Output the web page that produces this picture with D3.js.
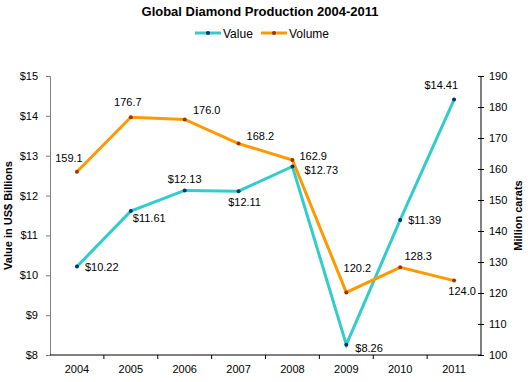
<!DOCTYPE html>
<html>
<head>
<meta charset="utf-8">
<script src="https://cdn.jsdelivr.net/npm/d3@7"></script>
<style>
  body { margin: 0; background: #fff; }
  text { font-family: "Liberation Sans", Arial, sans-serif; }
</style>
</head>
<body>
<div id="chart"></div>
<script>
var years = ["2004", "2005", "2006", "2007", "2008", "2009", "2010", "2011"];
var valueData = [10.22, 11.61, 12.13, 12.11, 12.73, 8.26, 11.39, 14.41];
var volumeData = [159.1, 176.7, 176.0, 168.2, 162.9, 120.2, 128.3, 124.0];
var leftTicks = [8, 9, 10, 11, 12, 13, 14, 15];
var rightTicks = [100, 110, 120, 130, 140, 150, 160, 170, 180, 190];

// label placement per point: [dx, dy, anchor]
var valueLabelPos = [[8, 4, "start"], [2, 11, "start"], [0, -7, "middle"], [6, 15, "middle"],
  [12, 8, "start"], [9, 7, "start"], [8, 4, "start"], [4, -11, "end"]];
var volumeLabelPos = [[-8, -10, "middle"], [-3, -11, "middle"], [22, -5, "middle"], [8, -4, "start"],
  [7, 0, "start"], [11, -20, "middle"], [18, -7, "middle"], [8, 14, "middle"]];

var width = 528, height = 382,
    margin = {top: 76, right: 47, bottom: 27, left: 50};

var svg = d3.select("#chart").append("svg")
    .attr("width", width)
    .attr("height", height);

var x = d3.scaleBand()
    .domain(years)
    .range([margin.left, width - margin.right]);

var yL = d3.scaleLinear()
    .domain([8, 15])
    .range([height - margin.bottom, margin.top]);

var yR = d3.scaleLinear()
    .domain([100, 190])
    .range([height - margin.bottom, margin.top]);

function cx(i) { return x(years[i]) + x.bandwidth() / 2; }

// title
svg.append("text")
    .attr("x", 260).attr("y", 16)
    .attr("text-anchor", "middle")
    .style("font-size", "13px").style("font-weight", "bold")
    .text("Global Diamond Production 2004-2011");

// legend
var legend = [
  {name: "Value", color: "#33CCCC", mark: "#003366", x: 195},
  {name: "Volume", color: "#FF9900", mark: "#993300", x: 261}
];
legend.forEach(function(l) {
  svg.append("line")
      .attr("x1", l.x).attr("x2", l.x + 26)
      .attr("y1", 33).attr("y2", 33)
      .attr("stroke", l.color).attr("stroke-width", 3);
  svg.append("circle")
      .attr("cx", l.x + 13).attr("cy", 33).attr("r", 2)
      .attr("fill", l.mark);
  svg.append("text")
      .attr("x", l.x + 28).attr("y", 37.5)
      .style("font-size", "12px")
      .text(l.name);
});

// left axis
var gl = svg.append("g")
    .attr("transform", "translate(" + margin.left + ",0)")
    .call(d3.axisLeft(yL).tickValues(leftTicks).tickSize(4).tickPadding(8)
      .tickFormat(function(d) { return "$" + d; }));
gl.selectAll("path, line").attr("stroke", "#808080");
gl.selectAll("text").style("font-size", "11px").style("font-family", "Liberation Sans, Arial, sans-serif").attr("fill", "#000");

// right axis
var gr = svg.append("g")
    .attr("transform", "translate(" + (width - margin.right) + ",0)")
    .call(d3.axisRight(yR).tickValues(rightTicks).tickSize(3).tickPadding(5));
gr.select(".domain").attr("d", "M0," + margin.top + "V" + (height - margin.bottom));
gr.selectAll(".tick line").attr("x1", -3);
gr.selectAll("path, line").attr("stroke", "#000");
gr.selectAll("text").style("font-size", "11px").style("font-family", "Liberation Sans, Arial, sans-serif");

// bottom axis
var gb = svg.append("g")
    .attr("transform", "translate(0," + (height - margin.bottom) + ")")
    .call(d3.axisBottom(x).tickSize(0).tickPadding(10));
gb.select(".domain").attr("d", "M" + margin.left + ",0H" + (width - margin.right)).attr("stroke", "#000");
gb.selectAll("text").style("font-size", "11px").style("font-family", "Liberation Sans, Arial, sans-serif");
gb.selectAll(".sep")
    .data(years.slice(1))
  .enter().append("line")
    .attr("x1", function(d) { return x(d); })
    .attr("x2", function(d) { return x(d); })
    .attr("y1", 0).attr("y2", 4)
    .attr("stroke", "#000");

// axis titles
svg.append("text")
    .attr("transform", "translate(12," + (margin.top + (height - margin.bottom - margin.top) / 2) + ") rotate(-90)")
    .attr("text-anchor", "middle")
    .style("font-size", "11px").style("font-weight", "bold")
    .text("Value in US$ Billions");
svg.append("text")
    .attr("transform", "translate(522," + (margin.top + (height - margin.bottom - margin.top) / 2) + ") rotate(-90)")
    .attr("text-anchor", "middle")
    .style("font-size", "11px").style("font-weight", "bold")
    .text("Million carats");

// lines
var valueLine = d3.line()
    .x(function(d, i) { return cx(i); })
    .y(function(d) { return yL(d); });
var volumeLine = d3.line()
    .x(function(d, i) { return cx(i); })
    .y(function(d) { return yR(d); });

svg.append("path")
    .datum(valueData)
    .attr("fill", "none")
    .attr("stroke", "#33CCCC")
    .attr("stroke-width", 3)
    .attr("d", valueLine);

svg.append("path")
    .datum(volumeData)
    .attr("fill", "none")
    .attr("stroke", "#FF9900")
    .attr("stroke-width", 3)
    .attr("d", volumeLine);

// markers
svg.selectAll(".vmark")
    .data(valueData)
  .enter().append("circle")
    .attr("cx", function(d, i) { return cx(i); })
    .attr("cy", function(d) { return yL(d); })
    .attr("r", 2)
    .attr("fill", "#003366");
svg.selectAll(".wmark")
    .data(volumeData)
  .enter().append("circle")
    .attr("cx", function(d, i) { return cx(i); })
    .attr("cy", function(d) { return yR(d); })
    .attr("r", 2)
    .attr("fill", "#993300");

// data labels
svg.selectAll(".vlabel")
    .data(valueData)
  .enter().append("text")
    .attr("x", function(d, i) { return cx(i) + valueLabelPos[i][0]; })
    .attr("y", function(d, i) { return yL(d) + valueLabelPos[i][1]; })
    .attr("text-anchor", function(d, i) { return valueLabelPos[i][2]; })
    .style("font-size", "11px")
    .text(function(d) { return "$" + d.toFixed(2); });

svg.selectAll(".wlabel")
    .data(volumeData)
  .enter().append("text")
    .attr("x", function(d, i) { return cx(i) + volumeLabelPos[i][0]; })
    .attr("y", function(d, i) { return yR(d) + volumeLabelPos[i][1]; })
    .attr("text-anchor", function(d, i) { return volumeLabelPos[i][2]; })
    .style("font-size", "11px")
    .text(function(d) { return d.toFixed(1); });
</script>
</body>
</html>
